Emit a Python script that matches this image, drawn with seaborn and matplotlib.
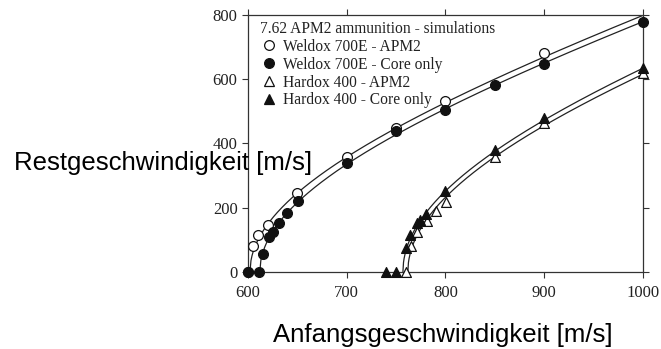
import numpy as np
import pandas as pd
import matplotlib
matplotlib.use("Agg")
import matplotlib.pyplot as plt
import seaborn as sns

# Simulated striking / residual velocities [m/s]
weldox_apm2_vi = [600, 605, 610, 620, 650, 700, 750, 800, 900]
weldox_apm2_vr = [0, 80, 114, 145, 244, 358, 447, 533, 683]

weldox_core_vi = [600, 611, 615, 621, 625, 631, 640, 651, 700, 750, 800, 850, 900, 1000]
weldox_core_vr = [0, 0, 55, 107, 125, 151, 184, 220, 338, 437, 503, 582, 648, 778]

hardox_apm2_vi = [760, 765, 771, 781, 791, 801, 850, 900, 1000]
hardox_apm2_vr = [0, 80, 125, 157, 189, 218, 358, 463, 620]

hardox_core_vi = [740, 750, 760, 764, 771, 774, 780, 800, 850, 900, 1000]
hardox_core_vr = [0, 0, 73, 114, 152, 161, 180, 250, 380, 478, 634]

# Lambert-Jonas fit parameters (a, p, ballistic limit v_bl)
fit_weldox_apm2 = (1.0, 2.0, 602.0)
fit_weldox_core = (0.985, 2.0, 612.0)
fit_hardox_apm2 = (0.95, 2.0, 762.0)
fit_hardox_core = (0.97, 2.0, 757.0)

series_labels = ["Weldox 700E - APM2", "Weldox 700E - Core only",
                 "Hardox 400 - APM2", "Hardox 400 - Core only"]
legend_title = "7.62 APM2 ammunition - simulations"
x_ticks = [600, 700, 800, 900, 1000]
y_ticks = [0, 200, 400, 600, 800]
x_label = "Anfangsgeschwindigkeit [m/s]"
y_label = "Restgeschwindigkeit [m/s]"


def lambert_jonas(params, v_max=1000.0, n=400):
    a, p, vbl = params
    v = np.linspace(vbl, v_max, n)
    vr = a * np.clip(v ** p - vbl ** p, 0, None) ** (1.0 / p)
    return pd.DataFrame({"vi": v, "vr": vr})


sns.set_theme(style="white")
serif = ["Liberation Serif", "DejaVu Serif"]
plt.rcParams["font.family"] = serif

fig = plt.figure(figsize=(6.61, 3.49), dpi=100)
ax = fig.add_axes([0.3752, 0.2215, 0.5971, 0.7355])

for params in (fit_weldox_apm2, fit_weldox_core, fit_hardox_apm2, fit_hardox_core):
    sns.lineplot(data=lambert_jonas(params), x="vi", y="vr", ax=ax,
                 color="#222222", linewidth=0.9, legend=False, zorder=2)

marker_size = 50
specs = [
    (weldox_apm2_vi, weldox_apm2_vr, "o", "white"),
    (hardox_apm2_vi, hardox_apm2_vr, "^", "white"),
    (weldox_core_vi, weldox_core_vr, "o", "#111111"),
    (hardox_core_vi, hardox_core_vr, "^", "#111111"),
]
label_order = [series_labels[0], series_labels[2], series_labels[1], series_labels[3]]
handles = {}
for (vi, vr, mk, fc), lab in zip(specs, label_order):
    df = pd.DataFrame({"vi": vi, "vr": vr})
    sns.scatterplot(data=df, x="vi", y="vr", ax=ax, marker=mk, s=marker_size,
                    facecolor=fc, edgecolor="#111111", linewidth=0.9,
                    zorder=3, legend=False, clip_on=False)
    handles[lab] = plt.Line2D([], [], linestyle="none", marker=mk, markersize=7,
                              markerfacecolor=fc, markeredgecolor="#111111",
                              markeredgewidth=0.9)

ax.set_xlim(600, 1000)
ax.set_ylim(0, 800)
ax.set_xticks(x_ticks)
ax.set_yticks(y_ticks)
ax.set_xlabel("")
ax.set_ylabel("")
ax.tick_params(axis="both", which="both", direction="out", length=4.5, width=0.8,
               color="#333333", labelsize=12, labelcolor="#222222",
               top=True, right=True, bottom=True, left=True)
ax.tick_params(axis="x", pad=5)
ax.tick_params(axis="y", pad=3)
for sp in ax.spines.values():
    sp.set_visible(True)
    sp.set_color("#333333")
    sp.set_linewidth(0.9)

leg = ax.legend([handles[l] for l in series_labels], series_labels,
                title=legend_title, loc="upper left", frameon=False,
                bbox_to_anchor=(12 / 395, 1 - 6 / 257),
                fontsize=11.2, title_fontsize=11.2, alignment="left",
                handletextpad=0.35, labelspacing=0.12, borderaxespad=0.0,
                handlelength=1.1, borderpad=0.0)
for t in leg.get_texts():
    t.set_color("#222222")
leg.get_title().set_color("#222222")

sans = ["Liberation Sans", "DejaVu Sans"]
fig.text(443 / 661, 1 - 342 / 349, x_label, ha="center", va="baseline",
         fontsize=18.5, family=sans, color="black")
fig.text(14 / 661, 1 - 170 / 349, y_label, ha="left", va="baseline",
         fontsize=18.5, family=sans, color="black")

fig.savefig("out.png", dpi=100)
